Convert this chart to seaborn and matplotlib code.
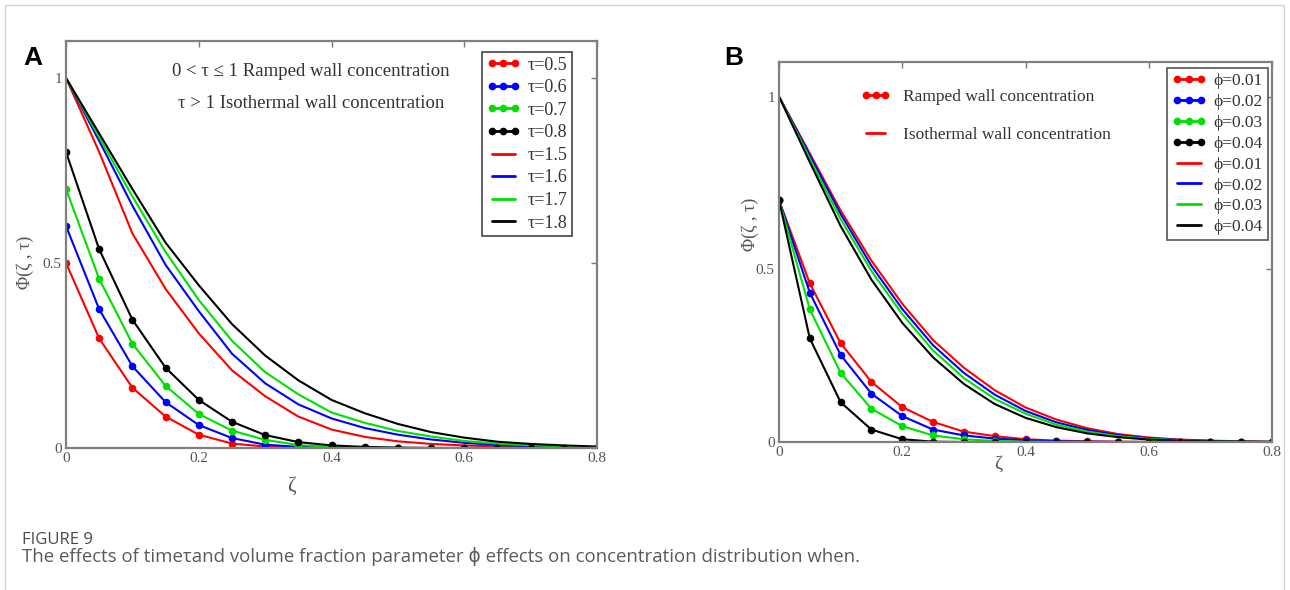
import numpy as np
import pandas as pd
import matplotlib
matplotlib.use("Agg")
import matplotlib.pyplot as plt
import seaborn as sns
from matplotlib.lines import Line2D
from matplotlib.patches import Rectangle

# ---------------- data ----------------
zeta = [0.00, 0.05, 0.10, 0.15, 0.20, 0.25, 0.30, 0.35, 0.40,
        0.45, 0.50, 0.55, 0.60, 0.65, 0.70, 0.75, 0.80]

# Panel A : ramped (0<tau<=1) with markers
a_labels_ramp = ["τ=0.5", "τ=0.6", "τ=0.7", "τ=0.8"]
a_ramp_05 = [0.50, 0.296, 0.163, 0.085, 0.036, 0.012, 0.004, 0.001, 0.0, 0.0, 0.0, 0.0, 0.0, 0.0, 0.0, 0.0, 0.0]
a_ramp_06 = [0.60, 0.375, 0.221, 0.124, 0.062, 0.027, 0.009, 0.003, 0.001, 0.0, 0.0, 0.0, 0.0, 0.0, 0.0, 0.0, 0.0]
a_ramp_07 = [0.70, 0.457, 0.282, 0.168, 0.092, 0.047, 0.022, 0.008, 0.003, 0.001, 0.0, 0.0, 0.0, 0.0, 0.0, 0.0, 0.0]
a_ramp_08 = [0.80, 0.537, 0.347, 0.217, 0.130, 0.071, 0.035, 0.016, 0.007, 0.003, 0.001, 0.0, 0.0, 0.0, 0.0, 0.0, 0.0]
# Panel A : isothermal (tau>1)
a_labels_iso = ["τ=1.5", "τ=1.6", "τ=1.7", "τ=1.8"]
a_iso_15 = [1.0, 0.80, 0.58, 0.43, 0.31, 0.21, 0.14, 0.085, 0.050, 0.030, 0.018, 0.011, 0.007, 0.004, 0.002, 0.001, 0.0]
a_iso_16 = [1.0, 0.83, 0.655, 0.495, 0.37, 0.255, 0.175, 0.118, 0.080, 0.054, 0.036, 0.023, 0.014, 0.008, 0.005, 0.003, 0.001]
a_iso_17 = [1.0, 0.84, 0.68, 0.53, 0.40, 0.29, 0.205, 0.145, 0.096, 0.068, 0.046, 0.031, 0.019, 0.012, 0.007, 0.004, 0.002]
a_iso_18 = [1.0, 0.85, 0.70, 0.555, 0.44, 0.335, 0.25, 0.183, 0.130, 0.094, 0.065, 0.043, 0.028, 0.017, 0.011, 0.007, 0.004]

# Panel B : ramped with markers
b_labels = ["ϕ=0.01", "ϕ=0.02", "ϕ=0.03", "ϕ=0.04"]
b_ramp_001 = [0.70, 0.459, 0.286, 0.174, 0.101, 0.058, 0.030, 0.017, 0.008, 0.004, 0.002, 0.001, 0.0, 0.0, 0.0, 0.0, 0.0]
b_ramp_002 = [0.70, 0.432, 0.252, 0.140, 0.075, 0.036, 0.019, 0.010, 0.005, 0.002, 0.001, 0.0, 0.0, 0.0, 0.0, 0.0, 0.0]
b_ramp_003 = [0.70, 0.384, 0.200, 0.096, 0.046, 0.019, 0.008, 0.003, 0.001, 0.0, 0.0, 0.0, 0.0, 0.0, 0.0, 0.0, 0.0]
b_ramp_004 = [0.70, 0.300, 0.115, 0.036, 0.008, 0.001, 0.0, 0.0, 0.0, 0.0, 0.0, 0.0, 0.0, 0.0, 0.0, 0.0, 0.0]
# Panel B : isothermal
b_iso_001 = [1.0, 0.835, 0.67, 0.525, 0.40, 0.295, 0.215, 0.150, 0.100, 0.065, 0.040, 0.023, 0.013, 0.007, 0.004, 0.002, 0.001]
b_iso_002 = [1.0, 0.83, 0.66, 0.51, 0.385, 0.28, 0.20, 0.137, 0.090, 0.057, 0.035, 0.020, 0.011, 0.006, 0.003, 0.001, 0.0]
b_iso_003 = [1.0, 0.82, 0.645, 0.495, 0.37, 0.265, 0.185, 0.125, 0.082, 0.050, 0.030, 0.017, 0.009, 0.005, 0.002, 0.001, 0.0]
b_iso_004 = [1.0, 0.81, 0.625, 0.47, 0.345, 0.245, 0.168, 0.110, 0.070, 0.043, 0.025, 0.014, 0.007, 0.004, 0.002, 0.001, 0.0]

x_ticks = [0, 0.2, 0.4, 0.6, 0.8]
x_ticklabels = ["0", "0.2", "0.4", "0.6", "0.8"]
y_ticks = [0, 0.5, 1]
y_ticklabels = ["0", "0.5", "1"]

colors = ["#ff0000", "#0000ff", "#00e000", "#000000"]

# ---------------- style ----------------
sns.set_style("white")
SERIF = ["Liberation Serif", "DejaVu Serif"]
plt.rcParams["font.family"] = SERIF
plt.rcParams["mathtext.fontset"] = "stix"

W, H = 1290, 590
fig = plt.figure(figsize=(W / 100, H / 100), dpi=100)


def fx(x):
    return x / W


def fy(y):
    return 1 - y / H


def make_axes(l, t, r, b):
    return fig.add_axes([fx(l), fy(b), fx(r) - fx(l), fy(t) - fy(b)])


axA = make_axes(66, 41, 597, 448)
axB = make_axes(779, 62, 1272, 442)

LW = 1.5
MS = 5.5


def draw(ax, vals, color, marker):
    df = pd.DataFrame({"zeta": zeta, "phi": vals})
    kw = dict(marker="o", markersize=MS, markeredgewidth=0, markerfacecolor=color) if marker else {}
    sns.lineplot(data=df, x="zeta", y="phi", ax=ax, color=color, lw=LW,
                 legend=False, errorbar=None, sort=False, **kw)


for vals, c in zip([a_iso_15, a_iso_16, a_iso_17, a_iso_18], colors):
    draw(axA, vals, c, False)
for vals, c in zip([a_ramp_05, a_ramp_06, a_ramp_07, a_ramp_08], colors):
    draw(axA, vals, c, True)
for vals, c in zip([b_iso_001, b_iso_002, b_iso_003, b_iso_004], colors):
    draw(axB, vals, c, False)
for vals, c in zip([b_ramp_001, b_ramp_002, b_ramp_003, b_ramp_004], colors):
    draw(axB, vals, c, True)

TICKC = "#555555"
for ax in (axA, axB):
    ax.set_xlim(0, 0.8)
    ax.set_ylim(0, 1.1)
    ax.set_xticks(x_ticks)
    ax.set_xticklabels(x_ticklabels)
    ax.set_yticks(y_ticks)
    ax.set_yticklabels(y_ticklabels)
    ax.tick_params(direction="in", length=4, width=1, color="#777777",
                   labelsize=11, labelcolor=TICKC, top=True, right=True,
                   pad=3)
    for s in ax.spines.values():
        s.set_color("#808080")
        s.set_linewidth(1.6)
    ax.set_facecolor("white")

axA.set_xlabel("ζ", fontsize=15, color=TICKC)
axA.set_ylabel("Φ(ζ , τ)", fontsize=13, color=TICKC)
axA.xaxis.set_label_coords(0.424, -0.07)
axA.yaxis.set_label_coords(-0.06, 0.457)

axB.set_xlabel("ζ", fontsize=14, color=TICKC)
axB.set_ylabel("Φ(ζ , τ)", fontsize=13, color=TICKC)
axB.xaxis.set_label_coords(0.444, -0.035)
axB.yaxis.set_label_coords(-0.04, 0.574)

# ---------------- legends ----------------
LEG_MS = 5.5


def ramp_handle(c):
    return Line2D([], [], color=c, lw=2, marker="o", markersize=LEG_MS, markeredgewidth=0)


def iso_handle(c):
    return Line2D([], [], color=c, lw=2)


handlesA = [ramp_handle(c) for c in colors] + [iso_handle(c) for c in colors]
legA = axA.legend(handlesA, a_labels_ramp + a_labels_iso, loc="upper right",
                  bbox_to_anchor=(fx(572), fy(52)), bbox_transform=fig.transFigure,
                  numpoints=3, fontsize=13, frameon=True, fancybox=False,
                  edgecolor="#444444", framealpha=1, borderpad=0.25,
                  labelspacing=0.31, handlelength=1.9, handletextpad=0.4,
                  borderaxespad=0)
legA.get_frame().set_linewidth(1.2)
for t in legA.get_texts():
    t.set_color("#333333")

handlesB = [ramp_handle(c) for c in colors] + [iso_handle(c) for c in colors]
legB = axB.legend(handlesB, b_labels + b_labels, loc="upper right",
                  bbox_to_anchor=(fx(1268), fy(68)), bbox_transform=fig.transFigure,
                  numpoints=3, fontsize=12.5, frameon=True, fancybox=False,
                  edgecolor="#555555", framealpha=1, borderpad=0.3,
                  labelspacing=0.27, handlelength=2.0, handletextpad=0.4,
                  borderaxespad=0)
legB.get_frame().set_linewidth(1.2)
for t in legB.get_texts():
    t.set_color("#333333")
axB.add_artist(legB)

legB2 = axB.legend([ramp_handle("#ff0000"), iso_handle("#ff0000")],
                   ["Ramped wall concentration", "Isothermal wall concentration"],
                   loc="upper left", bbox_to_anchor=(fx(861), fy(89)),
                   bbox_transform=fig.transFigure, numpoints=3, fontsize=12.5,
                   frameon=False, borderpad=0, borderaxespad=0,
                   labelspacing=1.25, handlelength=1.7, handletextpad=0.7)
for t in legB2.get_texts():
    t.set_color("#333333")

# ---------------- annotations ----------------
fig.text(fx(311), fy(72), "0 < τ ≤ 1 Ramped wall concentration", ha="center",
         va="center", fontsize=13.5, color="#333333", family=SERIF)
fig.text(fx(311), fy(104), "τ > 1 Isothermal wall concentration", ha="center",
         va="center", fontsize=13.5, color="#333333", family=SERIF)

SANS = ["Liberation Sans", "DejaVu Sans"]
fig.text(fx(23), fy(65), "A", fontsize=19, fontweight="bold", family=SANS,
         ha="left", va="baseline", color="black")
fig.text(fx(724), fy(65), "B", fontsize=19, fontweight="bold", family=SANS,
         ha="left", va="baseline", color="black")

CAP = ["Open Sans", "DejaVu Sans"]
fig.text(fx(22), fy(540), "FIGURE 9", fontsize=12, family=CAP, color="#4a4a4a",
         ha="left", va="center")
fig.text(fx(22), fy(557),
         "The effects of time\u03c4and volume fraction parameter \u03d5 effects on concentration distribution when.",
         fontsize=13.4, family=CAP, color="#5a5a5a", ha="left", va="center")

# card border
fig.add_artist(Rectangle((fx(5), -0.1), fx(1284) - fx(5), fy(5) + 0.1,
                         transform=fig.transFigure, fill=False,
                         edgecolor="#d4d4d4", lw=1))

fig.savefig("out.png", dpi=100, facecolor="white")
